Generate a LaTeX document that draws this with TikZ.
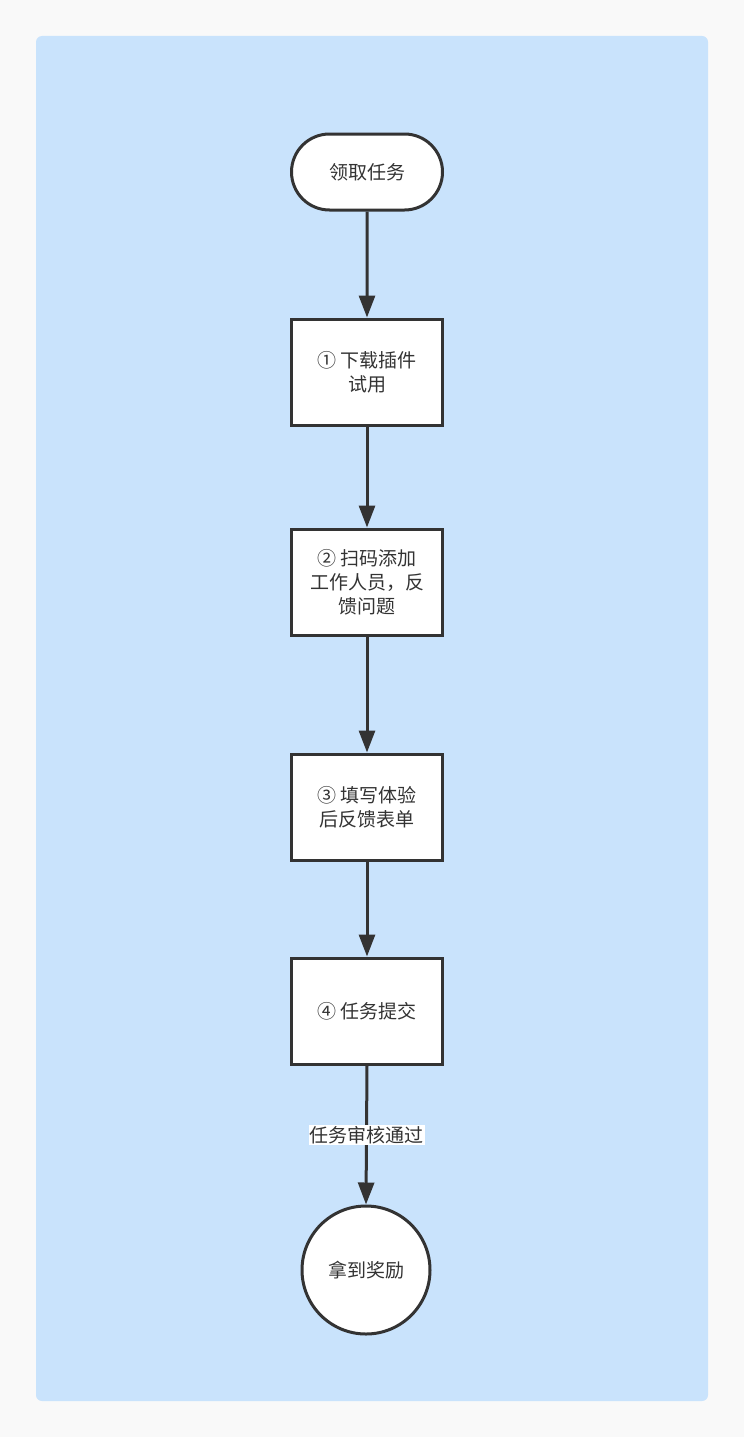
\documentclass[tikz,border=0pt]{standalone}
\usepackage{fontspec}
\setmainfont{Noto Sans CJK SC}
\usepackage{xcolor}
\usetikzlibrary{arrows.meta,positioning,shapes.geometric,shapes.misc}
\definecolor{pageGrey}{HTML}{F9F9F9}
\definecolor{panelBlue}{HTML}{C9E3FC}
\definecolor{lineDark}{HTML}{333333}

\tikzset{
  flowtext/.style={text=lineDark,font=\fontsize{19pt}{24pt}\selectfont,align=center},
  termbox/.style={flowtext,draw=lineDark,line width=3pt,fill=white,rounded rectangle,
    minimum width=151pt,minimum height=76pt,inner sep=0pt},
  stepbox/.style={flowtext,draw=lineDark,line width=3pt,fill=white,rectangle,
    minimum width=151pt,minimum height=106pt,inner sep=0pt},
  endcircle/.style={flowtext,draw=lineDark,line width=3pt,fill=white,circle,
    minimum size=128pt,inner sep=0pt},
  flowline/.style={draw=lineDark,line width=3pt,-{Triangle[length=22pt,width=16pt]}},
  edgelabel/.style={flowtext,fill=white,inner sep=1pt}
}

\begin{document}
\begin{tikzpicture}[x=1pt,y=-1pt]
    % page and panel
    \fill[pageGrey] (0,0) rectangle (744,1437);
    \useasboundingbox (0,0) rectangle (744,1437);
    \fill[panelBlue,rounded corners=6pt] (36,36) rectangle (708,1401);

    % steps
    \node[termbox] (start) at (367,172) {领取任务};
    \node[stepbox] (plugin) at (367,372) {① 下载插件\\试用};
    \node[stepbox] (scan) at (367,582) {② 扫码添加\\工作人员，反\\馈问题};
    \node[stepbox] (form) at (367,807) {③ 填写体验\\后反馈表单};
    \node[stepbox] (submit) at (367,1011) {④ 任务提交};
    \node[endcircle] (reward) at (366,1270) {拿到奖励};

    % connectors
    \draw[flowline] (start) -- (plugin);
    \draw[flowline] (plugin) -- (scan);
    \draw[flowline] (scan) -- (form);
    \draw[flowline] (form) -- (submit);
    \draw[flowline] (submit.south) -- node[edgelabel] (passed) {任务审核通过} (reward.north);
  \end{tikzpicture}
\end{document}
